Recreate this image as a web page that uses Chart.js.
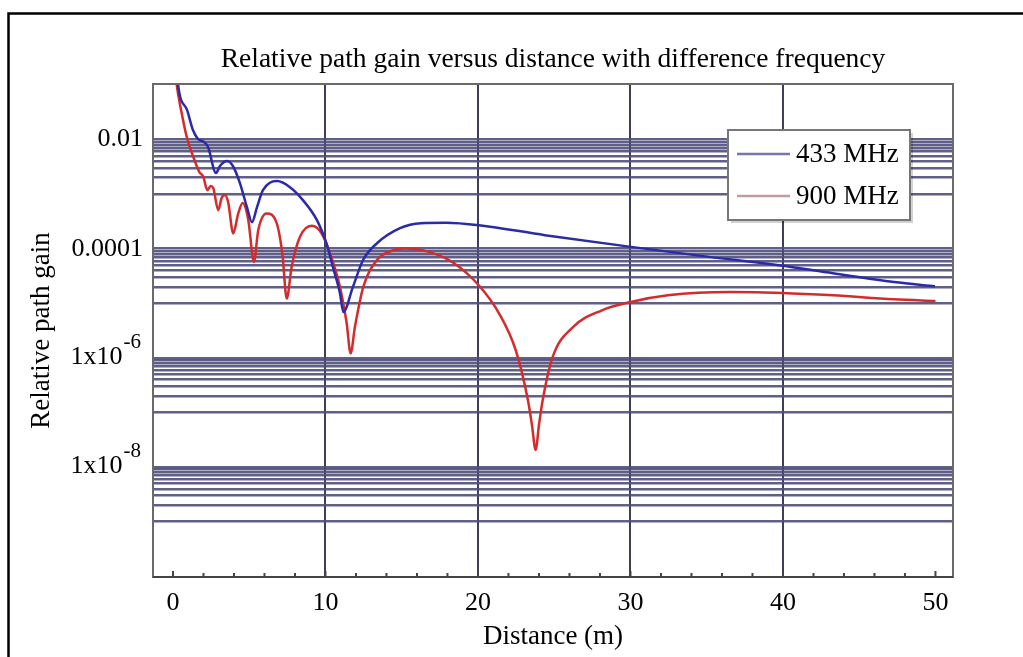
<!DOCTYPE html>
<html>
<head>
<meta charset="utf-8">
<script src="https://cdn.jsdelivr.net/npm/chart.js@4.4.1/dist/chart.umd.min.js"></script>
<style>
html,body{margin:0;padding:0;background:#fff;}
#wrap{width:1023px;height:657px;position:relative;}
</style>
</head>
<body>
<div id="wrap"><canvas id="c" width="1023" height="657"></canvas></div>
<script>
const chartTitle = 'Relative path gain versus distance with difference frequency';
const xAxisTitle = 'Distance (m)';
const yAxisTitle = 'Relative path gain';
const seriesLabels = ['433 MHz', '900 MHz'];
const xTickValues = [0, 10, 20, 30, 40, 50];
const xMinorTickValues = [0,2,4,6,8,10,12,14,16,18,20,22,24,26,28,30,32,34,36,38,40,42,44,46,48,50];
const yPlainLabels = [[1e-2, '0.01'], [1e-4, '0.0001']];
const yPowerLabels = [[1e-6, '1x10', '-6'], [1e-8, '1x10', '-8']];
const yGridDecadeBases = [1e-3, 1e-5, 1e-7, 1e-9];

const dist433 = [0.30, 0.33, 0.92, 1.31, 1.64, 2.03, 2.30, 2.82, 3.08, 3.54, 3.93, 4.39, 4.85, 5.18, 5.51, 5.90, 6.82, 7.67, 8.52, 9.44, 10.10, 10.49, 10.95, 11.17, 11.80, 12.46, 13.38, 14.89, 16.26, 17.90, 20.07, 24.39, 30.03, 35.15, 39.74, 43.28, 47.28, 49.97];
const gain433 = [0.14, 0.104, 0.0348, 0.0149, 0.0102, 0.0090, 0.00728, 0.00243, 0.00327, 0.00404, 0.00327, 0.00159, 0.000577, 0.000306, 0.000577, 0.00118, 0.00173, 0.00134, 0.000776, 0.000333, 0.000116, 4.58e-5, 1.53e-5, 6.9e-6, 2.0e-5, 6.15e-5, 0.000126, 0.000238, 0.000294, 0.000300, 0.000270, 0.000177, 0.000108, 7.08e-5, 4.98e-5, 3.55e-5, 2.46e-5, 2.05e-5];

const dist900 = [0.20, 0.24, 0.57, 0.90, 1.33, 1.72, 1.99, 2.25, 2.47, 2.64, 2.97, 3.19, 3.41, 3.63, 3.95, 4.28, 4.57, 4.94, 5.31, 5.59, 6.14, 6.80, 7.18, 7.46, 7.78, 8.33, 9.10, 9.75, 10.30, 10.95, 11.39, 11.65, 11.93, 12.48, 13.36, 14.45, 15.19, 16.79, 18.43, 20.05, 21.38, 22.48, 23.28, 23.54, 23.78, 24.00, 24.24, 24.90, 26.23, 28.13, 30.03, 32.46, 36.51, 39.97, 43.28, 47.28, 50.00];
const gain900 = [0.14, 0.104, 0.0306, 0.01125, 0.00483, 0.00256, 0.00208, 0.00118, 0.00140, 0.00129, 0.000508, 0.000845, 0.000959, 0.000684, 0.000190, 0.000443, 0.000684, 0.000333, 5.73e-5, 0.000218, 0.000443, 0.000294, 7.7e-5, 1.22e-5, 4.63e-5, 0.000165, 0.000262, 0.000190, 8.17e-5, 1.99e-5, 4.30e-6, 1.21e-6, 3.67e-6, 1.99e-5, 6.15e-5, 9.38e-5, 0.000101, 8.74e-5, 5.42e-5, 2.14e-5, 6.56e-6, 1.37e-6, 1.66e-7, 5.9e-8, 2.06e-8, 5.9e-8, 1.66e-7, 1.04e-6, 3.67e-6, 7.45e-6, 1.06e-5, 1.40e-5, 1.61e-5, 1.55e-5, 1.40e-5, 1.18e-5, 1.10e-5];

const SERIF = '"Liberation Serif", "DejaVu Serif", serif';
const BLUE = '#2b2ba8';
const RED = '#d42c2c';

function sameVal(a, b) { return Math.abs(Math.log10(a) - Math.log10(b)) < 1e-6; }

const yGridValues = [];
yGridDecadeBases.forEach(b => { for (let m = 1; m <= 10; m++) yGridValues.push(m * b); });

const decor = {
  id: 'decor',
  beforeDraw(chart) {
    const c = chart.ctx;
    c.save();
    c.fillStyle = '#fff';
    c.fillRect(0, 0, chart.width, chart.height);
    c.strokeStyle = '#000';
    c.lineWidth = 2.5;
    c.beginPath();
    c.moveTo(8.5, 657);
    c.lineTo(8.5, 13.5);
    c.lineTo(1023, 13.5);
    c.stroke();
    c.restore();
  },
  afterDatasetsDraw(chart) {
    const c = chart.ctx;
    const a = chart.chartArea;
    const xs = chart.scales.x;
    c.save();
    c.strokeStyle = '#6a6a6a';
    c.lineWidth = 2;
    c.strokeRect(a.left, a.top, a.right - a.left, a.bottom - a.top);
    c.strokeStyle = '#444';
    c.beginPath();
    c.moveTo(a.left, a.bottom); c.lineTo(a.right, a.bottom);
    c.stroke();
    c.lineWidth = 2;
    xMinorTickValues.forEach(v => {
      const px = xs.getPixelForValue(v);
      const len = (v % 10 === 0) ? 6 : 4;
      c.beginPath();
      c.moveTo(px, a.bottom);
      c.lineTo(px, a.bottom - len);
      c.stroke();
    });
    c.restore();
  },
  afterDraw(chart) {
    const c = chart.ctx;
    const ys = chart.scales.y;
    c.save();
    c.fillStyle = '#000';
    yPowerLabels.forEach(([v, base, exp]) => {
      const py = ys.getPixelForValue(v);
      c.font = '21px ' + SERIF;
      const ew = c.measureText(exp).width;
      const right = 141;
      c.textAlign = 'left';
      c.textBaseline = 'alphabetic';
      c.fillText(exp, right - ew, py - 10);
      c.font = '26px ' + SERIF;
      c.textAlign = 'right';
      c.textBaseline = 'middle';
      c.fillText(base, right - ew - 1, py - 1);
    });
    const bx = 728, by = 130, bw = 182, bh = 90;
    c.fillStyle = 'rgba(0,0,0,0.18)';
    c.fillRect(bx + 3, by + 3, bw, bh);
    c.fillStyle = '#fff';
    c.fillRect(bx, by, bw, bh);
    c.strokeStyle = '#777';
    c.lineWidth = 2;
    c.strokeRect(bx, by, bw, bh);
    const sampleCols = ['#7676a8', '#c49aa2'];
    const rowsY = [154, 196];
    chart.data.datasets.forEach((ds, i) => {
      c.strokeStyle = sampleCols[i];
      c.lineWidth = 2.5;
      c.beginPath();
      c.moveTo(737, rowsY[i]);
      c.lineTo(790, rowsY[i]);
      c.stroke();
      c.fillStyle = '#000';
      c.font = '27px ' + SERIF;
      c.textAlign = 'left';
      c.textBaseline = 'middle';
      c.fillText(ds.label, 796, rowsY[i] + 1);
    });
    c.restore();
  }
};

new Chart(document.getElementById('c'), {
  type: 'line',
  data: {
    datasets: [
      { label: seriesLabels[0], data: dist433.map((d, i) => ({ x: d, y: gain433[i] })), borderColor: BLUE, backgroundColor: BLUE, borderWidth: 2.5, pointRadius: 0, fill: false, cubicInterpolationMode: 'monotone' },
      { label: seriesLabels[1], data: dist900.map((d, i) => ({ x: d, y: gain900[i] })), borderColor: RED, backgroundColor: RED, borderWidth: 2.5, pointRadius: 0, fill: false, cubicInterpolationMode: 'monotone' }
    ]
  },
  options: {
    responsive: false,
    animation: false,
    events: [],
    layout: { padding: { left: 0, right: 70, top: 0, bottom: 0 } },
    plugins: {
      legend: { display: false },
      tooltip: { enabled: false },
      title: {
        display: true, text: chartTitle, color: '#000', fullSize: false,
        font: { family: SERIF, size: 27.5, weight: 'normal', lineHeight: 1.2 },
        padding: { top: 43, bottom: 8 }
      }
    },
    scales: {
      x: {
        type: 'linear', min: -1.31, max: 51.15,
        afterBuildTicks: s => { s.ticks = xTickValues.map(v => ({ value: v })); },
        afterFit: s => { s.height = 80; },
        grid: {
          color: ctx => (ctx.tick && [10, 20, 30, 40].includes(ctx.tick.value)) ? '#3e3e5c' : 'rgba(0,0,0,0)',
          lineWidth: 2, drawTicks: false
        },
        border: { display: false },
        ticks: { color: '#000', font: { family: SERIF, size: 26 }, padding: 11, maxRotation: 0, autoSkip: false },
        title: { display: true, text: xAxisTitle, color: '#000', font: { family: SERIF, size: 27, lineHeight: 1.2 }, padding: { top: 0, bottom: 4 } }
      },
      y: {
        type: 'logarithmic', min: 9.7e-11, max: 0.1039,
        afterBuildTicks: s => { s.ticks = yGridValues.map(v => ({ value: v })); },
        afterFit: s => { s.width = 153; },
        grid: { color: 'rgba(78,78,122,0.9)', lineWidth: 2.5, drawTicks: false },
        border: { display: false },
        ticks: {
          autoSkip: false, color: '#000', font: { family: SERIF, size: 26 }, padding: 10,
          callback: v => { const f = yPlainLabels.find(p => sameVal(p[0], v)); return f ? f[1] : ''; }
        },
        title: { display: true, text: yAxisTitle, color: '#000', font: { family: SERIF, size: 27, lineHeight: 1.2 }, padding: { top: 26, bottom: 0 } }
      }
    }
  },
  plugins: [decor]
});
</script>
</body>
</html>
